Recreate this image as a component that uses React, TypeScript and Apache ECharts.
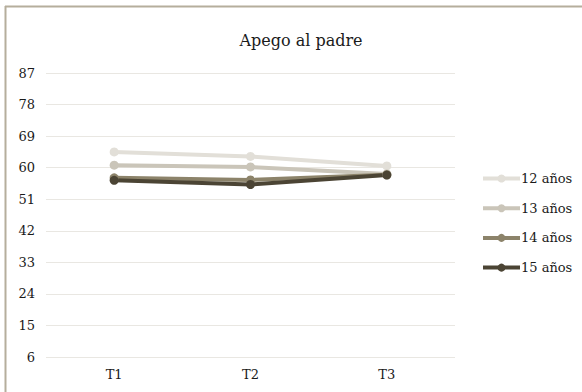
import React, { useEffect, useRef } from "react";
import * as echarts from "echarts";

const categories = ["T1", "T2", "T3"];
const seriesNames = ["12 años", "13 años", "14 años", "15 años"];
const values12 = [64.5, 63.2, 60.5];
const values13 = [60.7, 60.2, 58.2];
const values14 = [57.1, 56.5, 58.0];
const values15 = [56.4, 55.2, 57.9];
const colors = ["#e2dfd8", "#cac5b9", "#8c836a", "#4b4434"];
const yMin = 6;
const yMax = 87;
const yInterval = 9;

export default function App() {
  const ref = useRef<HTMLDivElement>(null);
  useEffect(() => {
    if (!ref.current) return;
    const chart = echarts.init(ref.current, null, { renderer: "svg" });
    const font = "DejaVu Serif";
    const data = [values12, values13, values14, values15];
    chart.setOption({
      animation: false,
      backgroundColor: "#ffffff",
      textStyle: { fontFamily: font },
      title: {
        text: "Apego al padre",
        left: 296,
        top: 27,
        textAlign: "center",
        textStyle: { fontFamily: font, fontSize: 16, fontWeight: "normal", color: "#1a1a1a" },
      },
      graphic: [
        { type: "line", shape: { x1: 5.5, y1: 6, x2: 5.5, y2: 392 }, style: { stroke: "#b5ae9c", lineWidth: 2 } },
        { type: "line", shape: { x1: 5, y1: 6.5, x2: 582, y2: 6.5 }, style: { stroke: "#b5ae9c", lineWidth: 2 } },
      ],
      grid: { left: 46, right: 127, top: 73, bottom: 35, containLabel: false },
      legend: {
        orient: "vertical",
        left: 476,
        top: 167,
        itemWidth: 37,
        itemHeight: 10,
        itemGap: 16.7,
        data: seriesNames,
        lineStyle: { width: 4 },
        textStyle: { fontFamily: font, fontSize: 13, color: "#1a1a1a", padding: [0, 0, 0, -4] },
      },
      xAxis: {
        type: "category",
        data: categories,
        boundaryGap: true,
        axisLine: { show: false },
        axisTick: { show: false },
        axisLabel: { fontFamily: font, fontSize: 13, color: "#1a1a1a", margin: 11 },
      },
      yAxis: {
        type: "value",
        min: yMin,
        max: yMax,
        interval: yInterval,
        axisLine: { show: false },
        axisTick: { show: false },
        axisLabel: { fontFamily: font, fontSize: 13, color: "#1a1a1a", margin: 11 },
        splitLine: { lineStyle: { color: "#e9e7e2", width: 1 } },
      },
      series: seriesNames.map((name, i) => ({
        name,
        type: "line",
        data: data[i],
        symbol: "circle",
        symbolSize: 9,
        lineStyle: { color: colors[i], width: 4 },
        itemStyle: { color: colors[i] },
      })),
    });
    return () => chart.dispose();
  }, []);
  return (
    <div
      ref={ref}
      style={{ position: "fixed", left: 0, top: 0, width: 582, height: 392, background: "#fff" }}
    />
  );
}
